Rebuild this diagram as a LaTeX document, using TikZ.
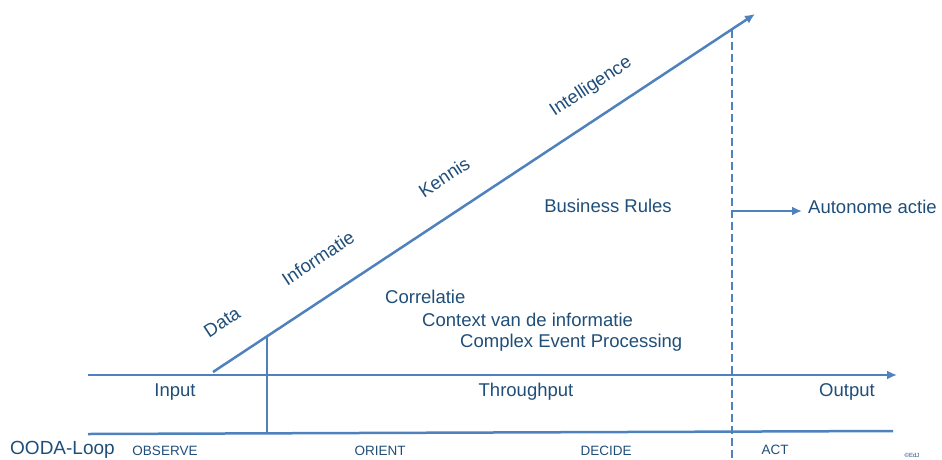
\documentclass[tikz,border=0pt]{standalone}
\usepackage{fontspec}
\setmainfont{Liberation Sans}
\usepackage{tikz}
\usetikzlibrary{positioning,arrows.meta}
\definecolor{lijnblauw}{HTML}{4F81BD}
\definecolor{tekstblauw}{HTML}{1F4E79}

\begin{document}
\begin{tikzpicture}[x=1pt, y=-1pt,
		lijn/.style={draw=lijnblauw, line width=2.5pt},
		pijl/.style={lijn, -{Latex[length=10pt,width=9pt]}},
		label/.style={text=tekstblauw, font=\fontsize{18.5}{22}\selectfont, inner sep=0pt},
		fase/.style={text=tekstblauw, font=\fontsize{13.5}{16}\selectfont, inner sep=0pt}]
	\useasboundingbox (0,0) rectangle (942,459);
	
	% Assen: doorvoer en OODA-lijn
	\coordinate (inL) at (88,375);
	\coordinate (uitR) at (897,375);
	\coordinate (oodaL) at (88,434);
	\coordinate (oodaR) at (893,431);
	\draw[pijl] (inL) -- (uitR);
	\draw[lijn] (oodaL) -- (oodaR);
	
	% Schuine pijl: data -> intelligence
	\coordinate (start) at (213,372);
	\coordinate (top) at (755,14);
	\draw[pijl] (start) -- (top);
	
	% Scheidingslijnen
	\coordinate (obsTop) at (267,336);
	\coordinate (obsBot) at (267,433);
	\draw[lijn] (obsTop) -- (obsBot);
	\coordinate (actTop) at (732,30);
	\coordinate (actBot) at (732,459);
	\draw[lijn, dash pattern=on 8pt off 4pt] (actTop) -- (actBot);
	
	% Labels langs de schuine pijl
	\node[label, rotate=33.4] (data) at (222,322) {Data};
	\node[label, rotate=33.4] (info) at (318,258) {Informatie};
	\node[label, rotate=33.4] (kennis) at (444,177) {Kennis};
	\node[label, rotate=33.4] (intel) at (591,87) {Intelligence};
	
	% Teksten binnen de driehoek
	\node[label] (rules) at (608,206) {Business Rules};
	\node[label, anchor=west] (corr) at (385,297) {Correlatie};
	\node[label, anchor=west] (context) at (422,320) {Context van de informatie};
	\node[label, anchor=west] (cep) at (460,343) {Complex Event Processing};
	
	% Autonome actie
	\coordinate (splits) at (732,211);
	\node[label, anchor=west] (auto) at (808,207) {Autonome actie};
	\draw[pijl, shorten >=6pt] (splits) -- (auto.west |- splits);
	
	% Input / Throughput / Output
	\node[label] (input) at (175,392) {Input};
	\node[label] (through) at (526,392) {Throughput};
	\node[label] (output) at (847,392) {Output};
	
	% OODA-fasen
	\node[label, anchor=west, font=\fontsize{19}{22}\selectfont] (ooda) at (10,450) {OODA-Loop};
	\node[fase] (observe) at (165,451) {OBSERVE};
	\node[fase] (orient) at (380,451) {ORIENT};
	\node[fase] (decide) at (606,451) {DECIDE};
	\node[fase] (act) at (775,450) {ACT};
	\node[text=tekstblauw, font=\fontsize{6}{7}\selectfont, inner sep=0pt] (copy) at (912,455) {©EdJ};
\end{tikzpicture}
\end{document}
